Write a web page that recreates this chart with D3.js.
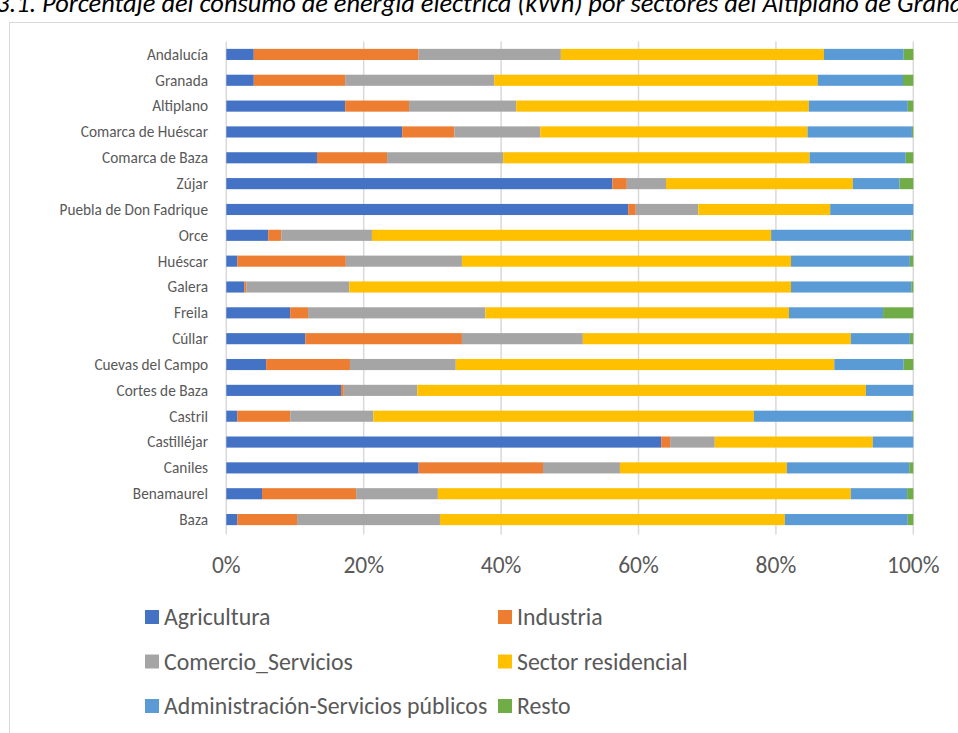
<!DOCTYPE html>
<html lang="es">
<head>
    <meta charset="UTF-8">
    <title>Consumo eléctrico por sectores</title>
    <script src="https://cdn.jsdelivr.net/npm/d3@7"></script>
    <style>
        body { margin: 0; background: #fff; }
        text { font-family: Carlito, Lato, sans-serif; }
    </style>
</head>
<body>
<script>

    const width  = 958;
    const height = 733;

    const municipios = [
        'Andalucía', 'Granada', 'Altiplano', 'Comarca de Huéscar', 'Comarca de Baza',
        'Zújar', 'Puebla de Don Fadrique', 'Orce', 'Huéscar', 'Galera', 'Freila',
        'Cúllar', 'Cuevas del Campo', 'Cortes de Baza', 'Castril', 'Castilléjar',
        'Caniles', 'Benamaurel', 'Baza'
    ];

    const sectores = [
        'Agricultura', 'Industria', 'Comercio_Servicios',
        'Sector residencial', 'Administración-Servicios públicos', 'Resto'
    ];

    // % del consumo, mismo orden que municipios
    const agricultura  = [4.0, 4.0, 17.3, 25.6, 13.2, 56.2, 58.5, 6.1, 1.6, 2.6, 9.3, 11.5, 5.8, 16.7, 1.6, 63.3, 28.0, 5.2, 1.6];
    const industria    = [24.0, 13.3, 9.3, 7.6, 10.2, 2.1, 1.1, 1.9, 15.8, 0.3, 2.6, 22.8, 12.2, 0.4, 7.7, 1.3, 18.1, 13.7, 8.7];
    const comercio     = [20.7, 21.7, 15.6, 12.5, 16.9, 5.7, 9.1, 13.2, 16.9, 15.0, 25.8, 17.6, 15.4, 10.7, 12.1, 6.5, 11.2, 11.9, 20.8];
    const residencial  = [38.3, 47.1, 42.6, 38.9, 44.6, 27.2, 19.2, 58.1, 47.9, 64.3, 44.2, 39.0, 55.1, 65.3, 55.4, 23.0, 24.3, 60.1, 50.2];
    const administracion = [11.6, 12.4, 14.4, 15.2, 14.0, 6.8, 12.1, 20.4, 17.3, 17.5, 13.7, 8.6, 10.1, 6.9, 23.0, 5.9, 17.8, 8.2, 17.9];
    const resto        = [1.4, 1.5, 0.8, 0.2, 1.1, 2.0, 0.0, 0.3, 0.5, 0.3, 4.4, 0.5, 1.4, 0.0, 0.2, 0.0, 0.6, 0.9, 0.8];

    const tickValues = [0, 0.2, 0.4, 0.6, 0.8, 1];

    const colores = ['#4472C4', '#ED7D31', '#A5A5A5', '#FFC000', '#5B9BD5', '#70AD47'];

    const series = [agricultura, industria, comercio, residencial, administracion, resto];
    const rows = municipios.map((m, i) => {
        const r = {municipio: m};
        sectores.forEach((s, j) => r[s] = series[j][i]);
        return r;
    });

    const stacked = d3.stack()
            .keys(sectores)
            .offset(d3.stackOffsetExpand)(rows);

    const x = d3.scaleLinear()
            .domain([0, 1])
            .range([226.3, 913.3]);

    const y = d3.scaleBand()
            .domain(municipios)
            .range([41.5, 532.5])
            .paddingInner(0.57)
            .paddingOuter(0.285);

    const color = d3.scaleOrdinal()
            .domain(sectores)
            .range(colores);

    const svg = d3.select("body")
            .append("svg")
            .attr("width", width)
            .attr("height", height);

    // marco del gráfico
    svg.append("rect")
            .attr("x", 9.5)
            .attr("y", 22.5)
            .attr("width", width + 20)
            .attr("height", height)
            .attr("fill", "none")
            .attr("stroke", "#d9d9d9")
            .attr("stroke-width", 1);

    // título (recortado arriba, como en la captura)
    svg.append("text")
            .attr("x", -4)
            .attr("y", 12)
            .attr("font-size", 26.4)
            .attr("font-style", "italic")
            .attr("fill", "#000")
            .text("3.1. Porcentaje del consumo de energía eléctrica (kWh) por sectores del Altiplano de Granada");

    // rejilla
    svg.append("g")
            .selectAll("line")
            .data(tickValues)
            .enter()
            .append("line")
            .attr("x1", d => x(d))
            .attr("x2", d => x(d))
            .attr("y1", y.range()[0])
            .attr("y2", y.range()[1] + 2)
            .attr("stroke", "#d9d9d9")
            .attr("stroke-width", 1.5);

    svg.append("g")
            .selectAll(".serie")
            .data(stacked)
            .enter()
            .append("g").attr("class", "serie")
            .attr("fill", d => color(d.key))
            .selectAll("rect")
            .data(d => d)
            .enter()
            .append("rect")
            .attr("x", d => x(d[0]))
            .attr("width", d => Math.max(0, x(d[1]) - x(d[0])))
            .attr("y", d => y(d.data.municipio))
            .attr("height", y.bandwidth());

    // etiquetas de municipios
    svg.append("g")
            .selectAll("text")
            .data(municipios)
            .enter()
            .append("text")
            .attr("x", 208)
            .attr("y", d => y(d) + y.bandwidth() / 2)
            .attr("dy", "0.35em")
            .attr("text-anchor", "end")
            .attr("font-size", 15.3)
            .attr("fill", "#595959")
            .text(d => d);

    // etiquetas del eje x
    svg.append("g")
            .selectAll("text")
            .data(tickValues)
            .enter()
            .append("text")
            .attr("x", d => x(d))
            .attr("y", 573)
            .attr("text-anchor", "middle")
            .attr("font-size", 23.5)
            .attr("fill", "#595959")
            .text(d3.format(".0%"));

    // leyenda
    const leyenda = svg.append("g")
            .selectAll("g")
            .data(sectores)
            .enter()
            .append("g")
            .attr("transform", (d, i) => "translate(" + [145 + (i % 2) * 353, 617 + Math.floor(i / 2) * 44.5] + ")");

    leyenda.append("rect")
            .attr("x", 0)
            .attr("y", -7)
            .attr("width", 14)
            .attr("height", 14)
            .attr("fill", d => color(d));

    leyenda.append("text")
            .attr("x", 19)
            .attr("y", 0)
            .attr("dy", "0.35em")
            .attr("font-size", 23.8)
            .attr("fill", "#595959")
            .text(d => d);

</script>
</body>
</html>
